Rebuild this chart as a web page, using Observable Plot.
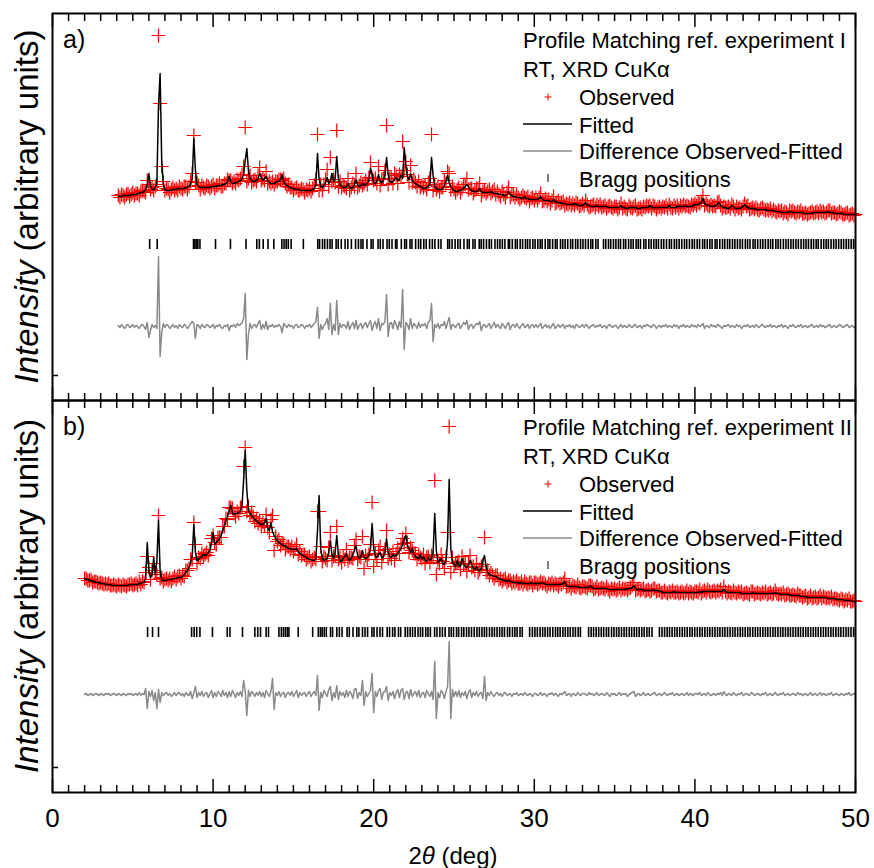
<!DOCTYPE html>
<html><head><meta charset="utf-8">
<script src="https://cdn.jsdelivr.net/npm/d3@7"></script>
<script src="https://cdn.jsdelivr.net/npm/@observablehq/plot@0.6"></script>
<style>
html,body{margin:0;padding:0;background:#fff;}
#chart{position:relative;width:874px;height:868px;}
#chart svg{position:absolute;left:0;}
</style></head><body><div id="chart"></div>
<script>
// ---------- data (arbitrary intensity units) ----------
const stepDeg = 0.1;
const startA = 4.1;
const fitA = [
214,214,214,215,215,215,215,215,216,216,
216,216,217,217,218,218,219,221,226,237,
225,221,221,223,228,305,337,250,226,221,
220,220,220,221,221,221,221,222,222,222,
222,222,223,223,224,226,232,272,240,226,
224,223,223,223,223,223,223,223,224,224,
224,224,225,225,225,226,226,227,229,234,
229,227,227,228,228,229,230,232,236,250,
262,240,232,230,229,229,230,232,237,233,
230,232,234,230,228,227,227,227,228,229,
229,231,236,229,226,225,224,223,222,222,
221,221,221,220,220,220,220,220,220,220,
220,221,222,226,257,232,224,223,225,228,
233,227,230,237,229,232,254,232,226,224,
223,223,224,227,223,222,223,226,231,226,
224,225,227,225,226,227,230,242,236,228,
227,229,236,229,228,230,235,253,236,229,
228,229,231,233,230,231,235,232,263,245,
234,231,237,230,228,227,226,225,224,223,
222,222,223,224,226,253,235,224,222,221,
221,221,222,225,229,235,228,224,222,220,
219,219,220,220,221,222,224,226,224,221,
220,219,219,219,220,222,219,218,218,218,
218,218,219,218,217,217,217,216,216,216,
215,215,216,219,216,215,214,214,213,213,
213,212,212,214,212,212,211,211,211,211,
211,211,212,214,211,210,210,210,210,209,
209,211,209,208,208,208,207,207,207,206,
206,206,206,206,207,206,206,205,205,205,
206,208,205,205,204,204,204,204,205,204,
204,204,204,204,204,203,203,203,203,203,
203,203,203,205,203,203,202,202,203,203,
203,203,203,202,202,202,203,203,203,203,
203,205,203,203,203,203,203,203,203,203,
203,203,203,205,203,203,203,203,204,204,
204,204,204,205,204,204,204,204,205,206,
206,206,207,208,212,207,206,205,205,204,
204,204,205,206,208,205,204,203,203,202,
202,203,205,204,202,202,202,202,203,204,
206,204,203,202,202,202,202,201,201,201,
201,201,201,201,200,200,200,200,200,199,
199,199,199,198,198,198,198,198,199,199,
198,198,198,198,198,198,198,197,197,197,
197,197,197,198,198,198,198,198,198,198,
198,198,199,198,198,198,197,197,197,197,
197,197,196,196,196,196,196,196,196,196];
const diffA = [
1,-1,2,0,-2,1,2,-1,0,2,
-1,1,0,-2,1,2,0,-3,4,-11,
-4,2,-1,1,-2,70,-30,-6,3,-1,
2,1,-2,0,2,-1,1,-2,2,0,
-1,2,1,-2,0,3,5,3,-12,2,
1,-2,2,0,-1,2,1,-1,0,2,
-2,1,0,2,-1,-2,1,0,2,-4,
1,0,2,-1,3,1,2,4,8,33,
-33,-8,3,-2,1,2,-1,3,6,-3,
2,-2,5,-3,1,0,2,-1,1,0,
2,0,-6,3,1,-1,2,0,1,-2,
1,2,-1,0,2,1,-2,1,0,2,
-1,1,3,5,19,-12,2,-3,1,3,
8,-3,23,-8,2,-4,26,-8,3,-1,
2,1,-2,5,-3,1,4,-2,6,-3,
1,3,-2,2,4,-1,3,6,-4,2,
5,-2,8,-4,3,2,5,32,-10,3,
4,-2,6,2,-3,5,-1,37,-23,4,
2,-3,8,-2,3,1,-2,4,-1,2,
1,3,-2,4,6,23,-15,2,-1,3,
-2,2,1,5,-2,4,9,-3,2,1,
-1,2,3,-2,1,4,2,6,-3,1,
2,-2,1,3,2,5,-4,1,2,-1,
1,3,-2,1,4,-1,2,0,-2,3,
1,-2,2,4,-3,1,2,-1,3,0,
-2,1,3,-1,0,2,-2,1,2,-1,
2,-1,1,3,-2,0,2,-1,1,-2,
1,3,-2,0,2,-1,1,2,-2,1,
0,2,-1,1,-2,2,1,-1,0,2,
-1,2,1,-2,0,1,2,-1,1,0,
2,-1,0,1,-2,1,2,0,-1,1,
1,-2,0,2,-1,1,0,-1,2,0,
-1,1,2,-1,0,1,-2,1,0,2,
1,0,-1,2,1,-2,0,1,-1,1,
0,2,-1,1,0,-1,2,0,1,-2,
1,0,2,-1,1,0,-1,2,0,1,
-1,2,0,1,3,-2,1,0,-1,2,
0,1,-1,2,1,0,-2,1,0,1,
2,-1,1,0,-1,2,0,1,-2,0,
1,0,2,-1,0,1,-1,2,0,-1,
1,2,0,-1,1,0,2,-1,1,0,
-1,1,0,2,-1,1,0,-2,1,0,
2,0,-1,1,0,2,-1,0,1,-1,
0,1,2,-1,0,1,-1,2,0,1,
-1,0,1,2,-1,0,1,-1,0,2,
1,-1,0,1,2,-1,0,1,-1,0];
const braggA = [6.05,6.52,8.78,8.86,8.95,9.05,9.18,10.15,11.08,12.05,12.72,12.88,13.12,13.42,13.78,14.28,14.42,14.55,14.68,14.86,15.62,
16.52,16.63,16.81,16.95,17.12,17.28,17.41,17.66,17.79,17.98,18.22,18.39,18.61,18.87,19.05,19.21,19.33,19.58,19.84,19.96,20.27,20.41,20.58,20.83,20.97,21.14,21.36,21.45,21.72,21.93,22.04,22.26,22.38,22.61,22.79,22.93,23.12,23.27,23.48,23.65,23.81,24.03,24.19,24.61,24.72,24.88,25.07,25.24,25.39,25.62,25.83,25.95,26.18,26.31,26.57,26.69,26.84,27.02,27.19,27.33,27.55,27.71,27.86,28.01,28.17,28.38,28.46,28.63,28.82,28.94,29.12,29.27,29.45,29.58,29.73,29.91,30.05,30.22,30.37,30.49,30.68,30.85,30.97,31.14,31.31,31.42,31.63,31.77,31.92,32.08,32.26,32.39,32.57,32.71,32.88,33.03,33.19,33.36,33.52,33.64,33.83,33.97,34.31,34.45,34.62,34.76,34.93,35.08,35.24,35.37,35.56,35.69,35.87,36.02,36.16,36.34,36.47,36.61,36.82,36.95,37.13,37.28,37.44,37.59,37.73,37.91,38.06,38.23,38.41,38.54,38.72,38.86,39.02,39.18,39.35,39.49,39.66,39.83,39.97,40.14,40.29,40.48,40.61,40.77,40.93,41.07,41.26,41.38,41.55,41.72,41.86,42.03,42.17,42.34,42.49,42.65,42.81,42.96,43.14,43.28,43.43,43.62,43.75,43.91,44.08,44.23,44.39,44.56,44.71,44.85,45.04,45.18,45.33,45.51,45.67,45.82,45.98,46.13,46.29,46.44,46.61,46.77,46.92,47.07,47.24,47.39,47.55,47.68,47.86,48.02,48.17,48.31,48.48,48.64,48.79,48.95,49.11,49.26,49.42,49.57,49.73,49.88];

const startB = 2.0;
const fitB = [232,
231,231,230,230,229,229,228,228,228,227,
227,227,226,226,226,226,225,225,225,225,
225,225,225,225,225,225,225,226,226,226,
226,226,226,227,227,228,228,232,268,240,
233,236,253,236,250,290,240,231,230,230,
230,231,231,231,232,232,232,233,233,233,
234,236,238,240,243,248,255,286,258,250,
251,253,254,256,255,256,258,260,268,278,
266,268,270,272,275,280,285,290,294,300,
305,298,296,297,297,298,300,305,330,360,
320,300,297,295,293,291,290,288,287,286,
286,288,292,282,280,288,279,275,272,270,
268,267,266,265,264,263,262,262,261,261,
261,262,259,257,256,255,254,253,252,251,
251,250,250,252,280,315,262,252,250,251,
252,258,270,256,252,258,275,256,250,249,
252,254,257,252,250,252,256,260,265,255,
252,254,260,253,252,253,255,262,287,262,
254,253,256,258,253,254,258,272,258,254,
253,256,254,255,257,260,262,266,272,275,
265,262,258,262,256,254,253,252,256,251,
254,250,249,253,250,252,258,297,260,248,
250,252,247,246,250,270,331,262,248,246,
244,250,245,244,252,247,244,243,245,250,
246,242,241,244,240,240,242,250,255,244,
238,236,235,235,234,234,233,232,231,231,
230,230,229,230,229,229,228,228,228,228,
227,228,227,227,227,227,227,228,227,227,
227,227,227,227,228,227,226,226,226,226,
226,226,226,226,226,226,226,227,229,225,
224,224,224,224,224,224,224,223,223,223,
223,223,223,223,225,223,222,222,222,222,
222,222,222,222,222,221,221,221,221,221,
221,221,221,221,221,221,221,222,222,222,
223,225,222,221,221,221,221,220,220,220,
220,220,220,221,220,220,220,219,219,218,
218,218,218,218,218,218,219,218,218,218,
218,218,218,218,218,218,218,218,218,218,
218,218,219,218,219,219,219,219,219,219,
219,219,219,219,219,219,219,221,219,218,
218,218,218,218,218,218,218,218,217,217,
217,217,217,217,217,218,217,217,217,217,
217,217,217,217,217,217,217,217,217,218,
217,217,216,216,216,216,216,216,216,215,
215,215,215,215,215,214,214,214,214,213,
213,213,213,213,213,213,213,213,213,213,
213,213,212,212,212,212,212,211,211,211,
211,211,210,210,210,210,210,209,209,209];
const diffB = [0,
1,-1,0,1,-1,0,1,0,-1,1,
0,-1,1,0,1,-1,0,1,0,-1,
1,0,-1,1,0,-1,1,0,1,-1,
0,1,-1,2,-1,1,0,6,-14,3,
-2,4,-6,2,-14,5,-8,2,-1,1,
2,-1,1,-2,0,2,-1,1,2,-1,
1,-2,2,0,-1,3,-4,2,8,-3,
2,-1,3,-2,1,2,-3,1,4,-3,
2,-2,3,1,-2,4,-1,2,-3,3,
-2,4,1,-3,2,-1,3,-2,14,3,
-21,4,-2,3,1,-2,2,-1,3,-2,
2,-3,4,1,-2,3,16,-15,2,-1,
3,-2,1,2,-3,1,2,-1,3,-2,
1,4,-3,2,-1,1,2,-2,1,3,
-2,1,3,-1,19,-16,2,-3,4,1,
-2,5,8,-6,2,-3,9,-5,3,-1,
2,-3,4,-2,3,1,-4,5,6,-4,
2,-1,14,-11,3,-2,1,4,21,-18,
3,-2,4,6,-5,2,3,8,-6,2,
-1,3,-4,2,5,-3,4,6,-5,2,
3,-4,5,-2,1,3,-2,4,-3,1,
2,-3,4,1,-2,3,-5,33,-24,2,
-3,4,2,-4,3,8,53,-24,5,-2,
3,-2,4,-3,2,-1,3,-4,2,5,
-3,2,-1,3,-2,1,2,-4,18,-6,
2,-1,3,0,-2,1,2,-1,1,-2,
1,2,-1,0,1,-2,1,0,2,-1,
0,1,-1,2,0,-1,1,0,-2,1,
1,-1,0,2,-1,1,0,-2,1,0,
2,-1,1,0,-2,1,0,1,3,-1,
0,1,-2,1,0,-1,2,0,-1,1,
1,0,-1,2,0,1,-1,0,2,-1,
0,1,0,-1,2,0,-2,1,0,1,
-1,0,2,-1,1,0,1,-2,0,1,
2,3,-2,0,1,-1,0,2,-1,0,
1,-1,0,1,2,-1,0,1,-1,0,
2,0,-1,1,0,2,-1,0,1,-1,
0,1,-1,0,2,-1,1,0,-1,1,
1,0,2,-1,0,1,-1,2,0,-1,
0,1,-1,1,0,2,-1,3,0,-1,
1,0,-1,2,0,-1,1,0,2,-1,
0,1,0,-1,2,1,-1,0,1,0,
-1,1,0,2,-1,0,1,-1,0,2,
0,-1,1,0,2,-1,0,1,-1,0,
1,0,-1,2,0,1,-1,0,1,-1,
0,2,-1,0,1,-1,0,2,-1,1,
0,-1,1,0,2,-1,0,1,0,-1,
1,0,-1,1,0,2,-1,0,1,0];
const braggB = [5.92,6.23,6.6,8.66,8.82,8.98,9.18,9.96,10.88,11.05,11.83,12.6,12.78,12.95,13.3,13.45,14.1,14.25,14.38,14.5,14.62,14.72,15.3,16.2,
16.55,16.68,16.79,16.92,17.05,17.31,17.44,17.7,17.86,18.03,18.34,18.48,18.71,18.95,19.08,19.3,19.46,19.62,19.89,20.02,20.21,20.39,20.55,20.84,20.99,21.18,21.32,21.54,21.68,21.96,22.11,22.27,22.42,22.58,22.76,22.91,23.05,23.24,23.38,23.53,23.79,23.94,24.12,24.28,24.45,24.69,24.83,24.97,25.16,25.29,25.47,25.61,25.78,25.93,26.09,26.26,26.43,26.58,26.74,26.89,27.03,27.21,27.37,27.52,27.68,27.84,27.99,28.14,28.33,28.47,28.64,28.79,28.93,29.11,29.25,29.71,29.88,30.04,30.19,30.36,30.52,30.67,30.83,30.98,31.15,31.32,31.46,31.61,31.78,31.93,32.09,32.24,32.41,32.56,32.73,32.87,33.38,33.54,33.69,33.85,34.01,34.17,34.32,34.49,34.63,34.81,34.96,35.12,35.27,35.43,35.59,35.74,35.91,36.06,36.22,36.37,36.53,36.69,36.84,37.01,37.16,37.33,37.79,37.95,38.11,38.27,38.42,38.58,38.74,38.89,39.05,39.21,39.36,39.52,39.68,39.83,39.99,40.15,40.31,40.46,40.62,40.78,40.93,41.09,41.25,41.41,41.56,41.72,41.87,42.03,42.19,42.35,42.5,42.66,42.82,42.97,43.13,43.29,43.44,43.6,43.76,43.91,44.07,44.23,44.39,44.54,44.7,44.86,45.01,45.17,45.33,45.48,45.64,45.8,45.95,46.11,46.27,46.43,46.58,46.74,46.9,47.05,47.21,47.37,47.52,47.68,47.84,48.0,48.15,48.31,48.47,48.62,48.78,48.94,49.09,49.25,49.41,49.56,49.72,49.88];

const xTickLabels = [0, 10, 20, 30, 40, 50];
const panelTags = ["a)", "b)"];
const titlesA = ["Profile Matching ref. experiment I", "RT, XRD CuK\u03b1"];
const titlesB = ["Profile Matching ref. experiment II", "RT, XRD CuK\u03b1"];
const legendItems = ["Observed", "Fitted", "Difference Observed-Fitted", "Bragg positions"];

// ---------- drawing ----------
const FONT = '"Liberation Sans", Arial, Helvetica, sans-serif';
const W = 874;
const minorTicks = d3.range(0, 51, 1).filter(v => v % 10 !== 0);

function makeRows(start, fit, diff) {
  return fit.map((f, i) => ({
    x: Math.round((start + i * stepDeg) * 100) / 100,
    fit: f, diff: diff[i], obs: f + diff[i]
  }));
}

function inTicks(anchor, ticks, size) {
  return Plot.axisX({
    anchor, ticks, tickSize: size, dy: anchor === "top" ? size : -size,
    tickFormat: () => "", label: null, strokeWidth: 1.5
  });
}

function panel(o) {
  const marks = [
    Plot.dot(o.rows, {x: "x", y: "obs", symbol: "plus", r: 4.6, stroke: "#ff0000", strokeWidth: 1.2, fill: "none"}),
    Plot.line(o.rows, {x: "x", y: "fit", stroke: "black", strokeWidth: 1.5}),
    Plot.line(o.rows, {x: "x", y: d => d.diff + o.diffBase, stroke: "#8a8a8a", strokeWidth: 1.5}),
    Plot.ruleX(o.bragg, {x: d => d, y1: o.braggY - 5, y2: o.braggY + 5, stroke: "black", strokeWidth: 1.6}),
    Plot.frame({stroke: "black", strokeWidth: 2}),
    inTicks("top", xTickLabels, 13),
    inTicks("top", minorTicks, 7),
    inTicks("bottom", xTickLabels, 13),
    inTicks("bottom", minorTicks, 7),
    Plot.axisY({anchor: "left", ticks: [o.yTick], tickSize: 6, dx: 6, tickFormat: () => "", label: null, strokeWidth: 1.5})
  ];
  if (o.labels) {
    marks.push(Plot.axisX({anchor: "bottom", ticks: xTickLabels, tickSize: 0, tickPadding: 10, dy: 6,
      fontSize: 26, label: null, tickFormat: d => String(d)}));
  }
  const svg = Plot.plot({
    width: W, height: o.height,
    marginLeft: 52, marginRight: 19, marginTop: o.mt, marginBottom: o.mb,
    style: {background: "transparent", overflow: "visible", fontFamily: FONT, color: "black"},
    x: {domain: [0, 50]},
    y: {domain: o.ydom},
    marks
  });
  svg.style.top = o.top + "px";
  const g = d3.select(svg).append("g").attr("font-family", FONT).attr("fill", "black").attr("text-anchor", "start");
  const ft = o.mt;
  // panel tag
  g.append("text").attr("x", 63).attr("y", ft + 35).attr("font-size", 25).text(o.tag);
  // y title
  const cy = (o.mt + (o.height - o.mb)) / 2;
  const yt = g.append("text").attr("transform", `translate(38,${cy}) rotate(-90)`)
    .attr("text-anchor", "middle").attr("font-size", 33);
  yt.append("tspan").attr("font-style", "italic").text("Intensity");
  yt.append("tspan").text(" (arbitrary units)");
  // legend
  const base = [35, 64, 92, 120, 146, 174];
  const lg = g.append("g").attr("font-size", 22).attr("text-anchor", "start");
  lg.append("text").attr("x", 523).attr("y", ft + base[0]).text(o.titles[0]);
  lg.append("text").attr("x", 523).attr("y", ft + base[1]).text(o.titles[1]);
  legendItems.forEach((t, i) => lg.append("text").attr("x", 579).attr("y", ft + base[i + 2]).text(t));
  lg.append("path").attr("d", `M544.5,${ft + 84}h7M548,${ft + 80.5}v7`).attr("stroke", "#ff0000").attr("fill", "none");
  lg.append("line").attr("x1", 523).attr("x2", 572).attr("y1", ft + 111).attr("y2", ft + 111).attr("stroke", "black").attr("stroke-width", 1.5);
  lg.append("line").attr("x1", 523).attr("x2", 572).attr("y1", ft + 138).attr("y2", ft + 138).attr("stroke", "#8a8a8a").attr("stroke-width", 1.5);
  lg.append("line").attr("x1", 548).attr("x2", 548).attr("y1", ft + 161).attr("y2", ft + 169).attr("stroke", "black").attr("stroke-width", 1);
  if (o.labels) {
    const xt = g.append("text").attr("x", 453).attr("y", o.height - 4).attr("text-anchor", "middle").attr("font-size", 24);
    xt.append("tspan").text("2");
    xt.append("tspan").attr("font-style", "italic").text("\u03b8");
    xt.append("tspan").text(" (deg)");
  }
  return svg;
}

const chart = document.getElementById("chart");
chart.appendChild(panel({
  rows: makeRows(startA, fitA, diffA), bragg: braggA,
  top: 0, height: 402, mt: 13, mb: 2, ydom: [10, 397],
  diffBase: 84, braggY: 166, yTick: 35, tag: panelTags[0], titles: titlesA, labels: false
}));
chart.appendChild(panel({
  rows: makeRows(startB, fitB, diffB), bragg: braggB,
  top: 398, height: 470, mt: 2, mb: 76, ydom: [18, 410],
  diffBase: 116, braggY: 178, yTick: 43, tag: panelTags[1], titles: titlesB, labels: true
}));
</script>
</body></html>
